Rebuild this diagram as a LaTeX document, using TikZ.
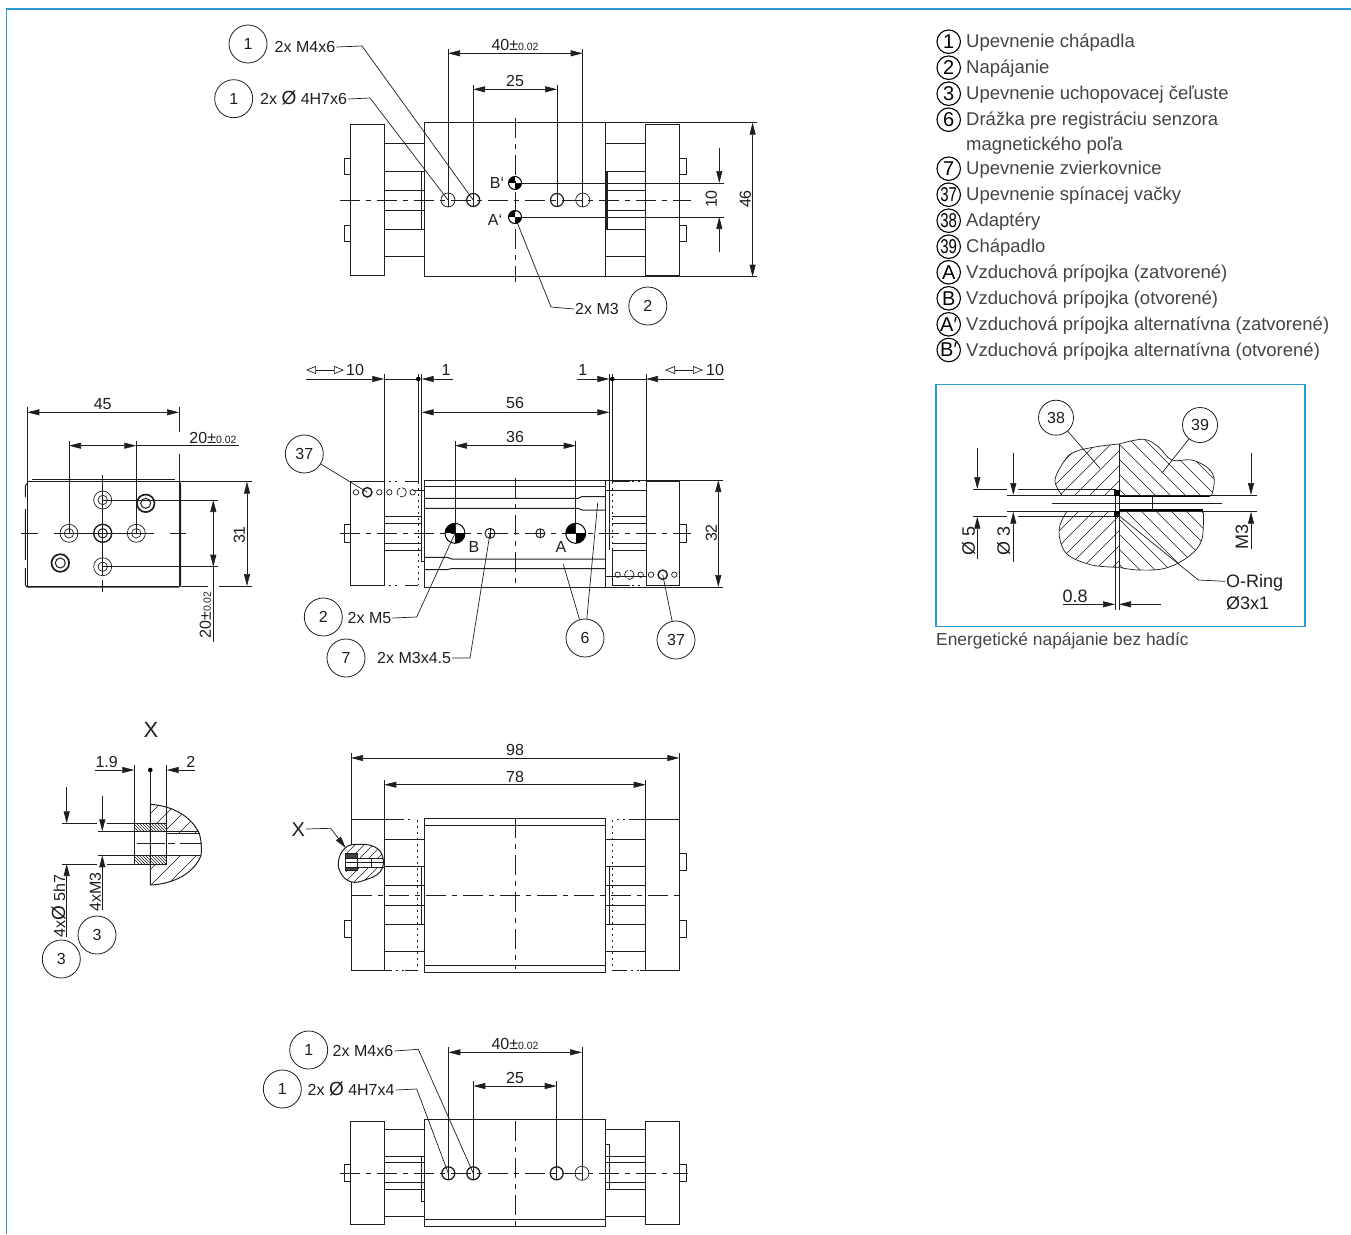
\documentclass[tikz,border=0pt]{standalone}
\usepackage{fontspec}
\setmainfont{Liberation Sans}
\usetikzlibrary{arrows.meta,calc}
\definecolor{frameblue}{HTML}{2A9AD6}
\definecolor{ink}{HTML}{1E1E1E}
\definecolor{legink}{HTML}{444444}
\newcommand\drawfont{\fontsize{16}{18}\selectfont}
\newcommand\tolfont{\fontsize{10.5}{12}\selectfont}
\newcommand\legfont{\fontsize{18.5}{21}\selectfont}
\newcommand\slashO{{\fontsize{19}{19}\selectfont Ø}}
\tikzset{
 part/.style={line width=1pt,draw=ink},
 fine/.style={line width=.7pt,draw=ink},
 ctr/.style={line width=.8pt,draw=ink,dash pattern=on 20pt off 6pt on 5pt off 6pt},
 hid/.style={line width=.9pt,draw=ink,dash pattern=on 2pt off 4pt},
 dimn/.style={line width=.7pt,draw=ink,{Triangle[length=12pt,width=6pt]}-{Triangle[length=12pt,width=6pt]}},
 tipend/.style={line width=.7pt,draw=ink,-{Triangle[length=12pt,width=6pt]}},
 openboth/.style={line width=.7pt,draw=ink,{Triangle[open,length=10pt,width=8pt]}-{Triangle[open,length=10pt,width=8pt]}},
 lead/.style={line width=.7pt,draw=ink},
 callout/.style={circle,draw=ink,line width=.8pt,minimum size=38pt,inner sep=0pt,font=\drawfont,text=ink},
 smallcall/.style={callout,minimum size=35pt},
 legcirc/.style={circle,draw=black,line width=1.1pt,minimum size=23.5pt,inner sep=0pt,font=\fontsize{20}{22}\selectfont,text=black},
 legtext/.style={anchor=base west,font=\legfont,text=legink,inner sep=0pt},
 lab/.style={font=\drawfont,text=ink,text height=11.5pt,text depth=0pt,inner xsep=1pt,inner ysep=0pt},
 hatchln/.style={line width=.65pt,draw=ink},
}
\newcommand\portmark[3]{%
 \begin{scope}\clip (#1,#2) circle (#3);
 \fill[black] (#1-#3,#2-#3) rectangle (#1,#2);
 \fill[black] (#1,#2) rectangle (#1+#3,#2+#3);
 \end{scope}
 \draw[line width=1pt,draw=black] (#1,#2) circle (#3);}
\newcommand\hatchup[4]{\foreach \d in {#1} \draw[hatchln] (\d,#2) -- ++(#3,-#3);}
\newcommand\hatchdn[4]{\foreach \d in {#1} \draw[hatchln] (\d,#2) -- ++(#3,#3);}
\begin{document}
\begin{tikzpicture}[x=1pt,y=-1pt]
\useasboundingbox (0,0) rectangle (1351,1234);
% frame
\draw[frameblue,line width=1.2pt] (1351,9) -- (6.5,9) -- (6.5,1234);

% ===== VIEW 1 =====
\draw[part] (424.6,122.7) rectangle (605.3,276.7);
\draw[part] (350.8,124.3) rectangle (384,275.3);
\draw[part] (645.8,124.3) rectangle (679.5,275.3);
\draw[part] (350.8,158) -- (344.7,158) -- (344.7,174.7) -- (350.8,174.7);
\draw[part] (350.8,225.3) -- (344.7,225.3) -- (344.7,241.7) -- (350.8,241.7);
\draw[part] (679.5,158) -- (686.4,158) -- (686.4,174.7) -- (679.5,174.7);
\draw[part] (679.5,225.3) -- (686.4,225.3) -- (686.4,241.7) -- (679.5,241.7);
\foreach \y in {143.7,171.3,190,210,229.3,256.7}{
 \draw[part] (384,\y) -- (424.6,\y); \draw[part] (605.3,\y) -- (645.8,\y);}
\draw[part] (421,171.3) -- (421,229.3);
\draw[line width=1.6pt,draw=ink] (607,171.3) -- (607,229.3);
\draw[ctr] (339.7,200) -- (691,200);
\draw[ctr] (515,118) -- (515,282);
\coordinate (ha) at (448,200); \coordinate (hb) at (473.2,200);
\coordinate (hc) at (557,200); \coordinate (hd) at (582.7,200);
\draw[fine] (ha) circle (7); \draw[part,line width=1.2pt] (hb) circle (6.5);
\draw[part,line width=1.2pt] (hc) circle (6.5); \draw[fine] (hd) circle (7);
\foreach \c in {ha,hb,hc,hd} \draw[fine] ($(\c)+(0,-7)$) -- ($(\c)+(0,7)$);
\coordinate (pb) at (515,183); \coordinate (pa) at (515,217);
\portmark{515}{183}{6.5} \portmark{515}{217}{6.5}
\node[lab] (lbb) at (497,183) {B\char96};
\node[lab] (lba) at (495,220) {A\char96};
% dims
\draw[fine] (ha) -- (448,49); \draw[fine] (hd) -- (582.7,49);
\draw[fine] (hb) -- (473.2,85); \draw[fine] (hc) -- (557,85);
\draw[dimn] (448,53.3) -- (582.7,53.3);
\draw[dimn] (473.2,89.3) -- (557,89.3);
\node[lab] (d40) at (515,45) {40±{\tolfont 0.02}};
\node[lab] (d25) at (515,81) {25};
\draw[fine] (605.3,122.7) -- (757,122.7); \draw[fine] (605.3,276.7) -- (757,276.7);
\draw[dimn] (752.6,122.7) -- (752.6,276.7);
\node[lab,rotate=90] (d46) at (745,199) {46};
\draw[fine] (pb) -- (723.5,183); \draw[fine] (pa) -- (723.5,217);
\draw[tipend] (719.3,147.7) -- (719.3,183);
\draw[tipend] (719.3,252) -- (719.3,217);
\node[lab,rotate=90] (d10) at (711,199) {10};
% callouts
\node[callout] (c1a) at (248,44) {1};
\node[lab,anchor=west] (t1a) at (273.5,47) {2x M4x6};
\coordinate (e1a) at (362,46);
\draw[lead] (t1a.east) -- (e1a) -- (hb);
\node[callout] (c1b) at (233.7,98.7) {1};
\node[lab,anchor=west] (t1b) at (259,99) {2x \slashO\ 4H7x6};
\coordinate (e1b) at (370,98);
\draw[lead] (t1b.east) -- (e1b) -- (ha);
\node[lab,anchor=west] (t2m) at (574,309) {2x M3};
\coordinate (e2m) at (551,307);
\draw[lead] (pa) -- (e2m) -- (t2m.west);
\node[callout] (c2a) at (647.8,306) {2};

% ===== VIEW 2 =====
\draw[part] (424.7,480) rectangle (605.7,587);
\draw[part] (350.7,481.7) rectangle (384.3,585.3);
\draw[part] (646,481.7) rectangle (679.3,585.3);
\draw[part] (350.7,524.7) -- (344.7,524.7) -- (344.7,542) -- (350.7,542);
\draw[part] (679.3,524.7) -- (686,524.7) -- (686,542) -- (679.3,542);
\draw[part] (421.7,374) -- (421.7,561) -- (424.7,561);
\draw[part] (612.3,374) -- (612.3,481.7);
\draw[part] (609.3,374) -- (609.3,550);
\draw[hid] (418.3,481.7) -- (418.3,585.3);
\draw[hid] (612.3,481.7) -- (612.3,550);
\draw[part] (612.3,550) -- (612.3,585.3);
\draw[fine] (418.3,374) -- (418.3,481.7);
\draw[part] (384.3,374) -- (384.3,481.7);
\draw[part] (646,374) -- (646,481.7);
\foreach \y in {516.7,523.3,543.3,550}{
 \draw[part] (384.3,\y) -- (421.7,\y); \draw[part] (612.3,\y) -- (646,\y);}
% top/bottom edges between jaw and body
\draw[hid] (389,481.7) -- (398,481.7); \draw[part] (405,481.7) -- (418.3,481.7);
\draw[hid] (389,585.3) -- (398,585.3); \draw[part] (405,585.3) -- (418.3,585.3);
\draw[part] (612.3,585.3) -- (630,585.3); \draw[hid] (632,585.3) -- (642,585.3);
\draw[hid] (632,481.7) -- (642,481.7);
\draw[part] (612.3,481.7) -- (630,481.7);
% body lines
\draw[part] (424.7,486.7) -- (605.7,486.7);
\draw[fine] (413,490.7) -- (424.7,490.7);
\draw[fine] (605.7,490.7) -- (646,490.7);
\draw[fine] (605.7,576.7) -- (646,576.7);
\draw[part] (424.7,498.3) -- (578,498.3) .. controls (580,496.5) .. (582,496.5) -- (605.7,496.5);
\draw[part] (424.7,508.3) -- (578,508.3) .. controls (580,510) .. (582,510) -- (605.7,510);
\draw[part] (424.7,557.3) -- (447,557.3) .. controls (450,559) .. (452,559) -- (605.7,559);
\draw[part] (424.7,569.7) -- (447,569.7) .. controls (450,568.5) .. (452,568.5) -- (605.7,568.5);
\draw[ctr] (340,533.3) -- (690.7,533.3);
\draw[ctr] (515.3,478) -- (515.3,587);
% ports and holes
\coordinate (pB) at (455,533.3); \coordinate (pA) at (575.7,533.3);
\coordinate (mL) at (490,533.3); \coordinate (mR) at (540.3,533.3);
\portmark{455}{533.3}{10} \portmark{575.7}{533.3}{10}
\draw[part] (mL) circle (5); \draw[part] (mR) circle (4.5);
\draw[fine] (490,528.3) -- (490,538.3); \draw[fine] (540.3,528.8) -- (540.3,537.8);
\node[lab] (lbB) at (474,547) {B};
\node[lab] (lbA) at (561,547) {A};
% small holes
\foreach \x in {356,379.3,389.3,412.7} \draw[fine] (\x,492.3) circle (2.7);
\coordinate (h37a) at (367.3,492.3);
\draw[line width=1.4pt,draw=ink] (h37a) circle (4.7);
\draw[fine,dash pattern=on 9pt off 2pt] (401.7,492.3) circle (4.7);
\foreach \x in {617.7,640.7,651,674.3} \draw[fine] (\x,574.7) circle (2.7);
\coordinate (h37b) at (662.7,574.7);
\draw[line width=1.4pt,draw=ink] (h37b) circle (4.7);
\draw[fine,dash pattern=on 9pt off 2pt] (629.3,574.7) circle (4.7);
% dims
\draw[dimn] (421.7,412.3) -- (609.3,412.3);
\node[lab] (d56) at (515,403) {56};
\draw[fine] (pB) -- (455,440.7); \draw[fine] (pA) -- (575.7,440.7);
\draw[dimn] (455,445.7) -- (575.7,445.7);
\node[lab] (d36) at (515,437) {36};
\draw[tipend] (306,379) -- (384.3,379);
\draw[fine] (384.3,379) -- (418.3,379);
\fill[black] (418.3,379) circle (2.3);
\draw[tipend] (453,379) -- (421.7,379);
\draw[tipend] (576.7,379) -- (609.3,379);
\draw[fine] (609.3,379) -- (646,379);
\fill[black] (612.3,379) circle (2.3);
\draw[tipend] (724,379) -- (646,379);
\draw[openboth] (306,370) -- (344,370);
\node[lab] (d10a) at (355,370) {10};
\node[lab] (d1a) at (446,370) {1};
\node[lab] (d1b) at (582.7,370) {1};
\draw[openboth] (665,370) -- (703,370);
\node[lab] (d10b) at (715,370) {10};
\draw[fine] (605.7,480) -- (723,480); \draw[fine] (605.7,587) -- (723,587);
\draw[dimn] (718.3,480) -- (718.3,587);
\node[lab,rotate=90] (d32) at (711,533) {32};
% callouts
\node[callout] (c37a) at (304.3,454) {37};
\draw[lead] (c37a) -- (h37a);
\node[callout] (c37b) at (676,640) {37};
\draw[lead] (c37b) -- (h37b);
\node[callout] (c6) at (585,638) {6};
\coordinate (s6a) at (563.3,564.3); \coordinate (s6b) at (597.7,502.7);
\draw[lead] (c6) -- (s6a); \draw[lead] (c6) -- (s6b);
\node[callout] (c2b) at (323.3,617) {2};
\node[lab,anchor=west] (t2b) at (346.5,618) {2x M5};
\coordinate (e2b) at (416.7,617);
\draw[lead] (t2b.east) -- (e2b) -- (pB);
\node[callout] (c7) at (346,658) {7};
\node[lab,anchor=west] (t7) at (376,658) {2x M3x4.5};
\coordinate (e7) at (470,658);
\draw[lead] (t7.east) -- (e7) -- (mL);

% ===== VIEW 3 =====
\draw[part] (27.3,481.7) rectangle (179,586);
\draw[part] (31.7,479.3) -- (175,479.3);
\draw[part] (179,481.7) -- (180.7,484) -- (180.7,585) -- (179,587) -- (27,587) -- (25.3,585);
\draw[part] (25.3,585) -- (25.3,568) (25.3,560) -- (25.3,509) (25.3,497) -- (25.3,486) -- (27.3,483);
\draw[ctr,dash pattern=on 17pt off 16pt on 100pt off 16pt] (21,533.3) -- (185.7,533.3);
\draw[ctr,dash pattern=on 100pt off 5pt] (102.7,475) -- (102.7,591.7);
\foreach \n/\x/\y in {pa/102.7/500,pb/69/533.3,pc/136.3/533.3,pd/102.7/566.7}{
 \coordinate (v\n) at (\x,\y);
 \draw[fine] (\x,\y) circle (9); \draw[fine] (\x,\y) circle (4.7);}
\draw[line width=1.4pt,draw=ink] (102.7,533.3) circle (9);
\draw[part] (102.7,533.3) circle (4.7);
\draw[line width=1.7pt,draw=ink] (145.7,503.3) circle (8.8);
\draw[part] (145.7,503.3) circle (5);
\draw[line width=1.7pt,draw=ink] (60.3,563) circle (8.8);
\draw[part] (60.3,563) circle (5);
\draw[fine] (27.3,481.7) -- (27.3,407);
\draw[fine] (179,481.7) -- (179,454) (179,431.7) -- (179,407);
\draw[dimn] (27.3,412.3) -- (179,412.3);
\node[lab] (d45) at (102.7,403.3) {45};
\draw[fine] (vpb) -- (69,441); \draw[fine] (vpc) -- (136.3,441);
\draw[dimn] (69,445.7) -- (136.3,445.7);
\draw[fine] (136.3,445.7) -- (239,445.7);
\node[lab] (d20h) at (213,437.5) {20±{\tolfont 0.02}};
\draw[fine] (vpa) -- (218,500); \draw[fine] (vpd) -- (218,566.7);
\draw[dimn] (213.3,500) -- (213.3,566.7);
\draw[fine] (213.3,566.7) -- (213.3,641.7);
\node[lab,rotate=90] (d20v) at (205,615) {20±{\tolfont 0.02}};
\draw[fine] (179,481.7) -- (251.7,481.7);
\draw[fine] (180.7,586) -- (208,586) (219,586) -- (251.7,586);
\draw[dimn] (247,481.7) -- (247,586);
\node[lab,rotate=90] (d31) at (239,535) {31};

% ===== VIEW 4 (detail X) =====
\node[lab,font=\fontsize{22}{24}\selectfont,text height=16pt] (xt) at (151,729) {X};
\begin{scope}
 \clip (150.3,804.3) .. controls (175,806) and (192,818) .. (199,833) -- (166.7,833) -- (166.7,823.3) -- (150.3,823.3) -- cycle;
 \hatchup{130,146,...,240}{834}{40}{}
\end{scope}
\begin{scope}
 \clip (150.3,885) .. controls (175,884) and (195,872) .. (201,855.3) -- (166.7,855.3) -- (166.7,864) -- (150.3,864) -- cycle;
 \hatchup{130,146,...,240}{890}{40}{}
\end{scope}
\draw[part] (150.3,885) -- (150.3,804.3) .. controls (175,806) and (192,818) .. (199,833) .. controls (201,838) and (202,848) .. (201,855.3) .. controls (195,872) and (175,884) .. (150.3,885);
\begin{scope}
 \clip (134.3,823.3) rectangle (166.7,831.3);
 \foreach \d in {130,133,...,170} \draw[line width=.5pt,draw=ink] (\d,823) -- ++(9,9);
\end{scope}
\begin{scope}
 \clip (134.3,855.3) rectangle (166.7,864);
 \foreach \d in {130,133,...,170} \draw[line width=.5pt,draw=ink] (\d,855) -- ++(9,9);
\end{scope}
\draw[part] (134.3,823.3) rectangle (166.7,831.3);
\draw[part] (134.3,855.3) rectangle (166.7,864);
\draw[fine] (98.3,831.3) -- (199,831.3); \draw[fine] (98.3,855.3) -- (201,855.3);
\draw[fine] (166.7,833.3) -- (199.5,833.3);
\draw[fine] (136.7,843.3) -- (165,843.3) (168,843.3) -- (175,843.3) (180,843.3) -- (201.7,843.3);
\draw[fine] (134.3,765) -- (134.3,864);
\draw[fine] (166.7,765) -- (166.7,864);
\draw[fine] (150.3,770) -- (150.3,804.3);
\fill[black] (150.3,770) circle (2.3);
\draw[tipend] (95.3,770) -- (134.3,770);
\draw[tipend] (195,770) -- (166.7,770);
\node[lab] (d19) at (106.7,762) {1.9};
\node[lab] (d2) at (190.7,762) {2};
\draw[fine] (62.3,823.3) -- (97,823.3) (107,823.3) -- (134.3,823.3);
\draw[fine] (62.3,864) -- (97,864) (107,864) -- (134.3,864);
\draw[tipend] (66.7,787.3) -- (66.7,823.3);
\draw[tipend] (66.7,936.7) -- (66.7,864);
\draw[tipend] (102.3,795.7) -- (102.3,831.3);
\draw[tipend] (102.3,910) -- (102.3,855.3);
\node[lab,rotate=90] (t5h) at (59.3,906) {4x\slashO\ 5h7};
\node[lab,rotate=90] (t4m) at (95,892) {4xM3};
\node[callout] (c3a) at (97,935) {3};
\node[callout] (c3b) at (61.3,959) {3};

% ===== VIEW 5 =====
\draw[part] (424.3,818) rectangle (605.7,972.3);
\draw[part] (424.3,825) -- (605.7,825); \draw[part] (424.3,965) -- (605.7,965);
\draw[part] (351,819.3) rectangle (384.3,970);
\draw[part] (645.7,819.3) rectangle (679.3,970);
\draw[part] (351,920) -- (344.3,920) -- (344.3,937.3) -- (351,937.3);
\foreach \y in {853.3,920}
 \draw[part] (679.3,\y) -- (686,\y) -- (686,\y+17) -- (679.3,\y+17);
\foreach \y in {839,866,885.3,905.3,924.3,951.7}{
 \draw[part] (384.3,\y) -- (424.3,\y); \draw[part] (605.7,\y) -- (645.7,\y);}
\draw[fine] (421.3,866) rectangle (424.3,924);
\draw[fine] (605.7,866) rectangle (609.3,924);
\draw[hid] (417.7,820) -- (417.7,970);
\draw[hid] (612.3,820) -- (612.3,970);
\draw[part] (384.3,819.3) -- (402,819.3) (630,819.3) -- (645.7,819.3);
\draw[hid] (402,819.3) -- (414,819.3); \draw[hid] (617,819.3) -- (630,819.3);
\draw[part] (384.3,970) -- (390,970) (405,970) -- (417.7,970) (612.3,970) -- (625,970) (640,970) -- (645.7,970);
\draw[hid] (390,970) -- (405,970); \draw[hid] (625,970) -- (640,970);
\draw[ctr] (352,895) -- (682.7,895);
\draw[ctr] (515.3,818) -- (515.3,968.7);
% blob
\def\blobpts{(338.3,862) (345,848) (358,844.3) (375,847) (383,858) (380,872) (365,880) (352,882) (342,875)}
\path[fill=white] plot[smooth cycle,tension=.7] coordinates {\blobpts};
\begin{scope}
 \clip plot[smooth cycle,tension=.7] coordinates {\blobpts};
 \foreach \d in {310,319,...,400} \draw[line width=.6pt,draw=ink] (\d,890) -- ++(50,-50);
 \fill[white] (340,858.3) rectangle (386,867.3);
 \fill[white] (336,846) rectangle (345.5,880);
\end{scope}
\draw[part] plot[smooth cycle,tension=.7] coordinates {\blobpts};
\path[fill=black!75] (345,853.3) rectangle (357.7,858.3);
\path[fill=black!75] (345,867.3) rectangle (357.7,870);
\draw[fine] (345,853.3) rectangle (357.7,870);
\draw[fine] (345,858.3) -- (383,858.3) (345,867.3) -- (385,867.3);
\draw[fine] (371.7,858.3) -- (371.7,867.3);
\draw[fine] (345,862) -- (385,862);
\node[lab,font=\fontsize{20}{22}\selectfont,text height=14pt] (xl) at (298.3,829) {X};
\coordinate (e5x) at (330.7,828.3); \coordinate (b5x) at (345.7,848);
\draw[lead] (xl.east) -- (e5x);
\draw[tipend] (e5x) -- (b5x);
\draw[fine] (351,819.3) -- (351,752.7);
\draw[fine] (679.3,819.3) -- (679.3,752.7);
\draw[fine] (384.3,819.3) -- (384.3,780);
\draw[fine] (645.7,819.3) -- (645.7,780);
\draw[dimn] (351,758) -- (679.3,758);
\draw[dimn] (384.3,784.7) -- (645.7,784.7);
\node[lab] (d98) at (515,750) {98};
\node[lab] (d78) at (515,776.5) {78};

% ===== VIEW 6 =====
\draw[part] (424.7,1119.3) rectangle (605.3,1226.7);
\draw[part] (424.7,1219.3) -- (605.3,1219.3);
\draw[part] (350.7,1121) rectangle (384.3,1224.3);
\draw[part] (645.7,1121) rectangle (679.3,1224.3);
\draw[part] (350.7,1164.3) -- (344.7,1164.3) -- (344.7,1181.3) -- (350.7,1181.3);
\draw[part] (679.3,1164.3) -- (686,1164.3) -- (686,1181.3) -- (679.3,1181.3);
\foreach \y in {1129.7,1156.3,1162.7,1182.7,1189.3,1216.7}{
 \draw[part] (384.3,\y) -- (424.7,\y); \draw[part] (605.3,\y) -- (645.7,\y);}
\draw[fine] (424.7,1156.3) -- (421.3,1156.3) -- (421.3,1201) -- (424.7,1201);
\draw[fine] (605.3,1144) -- (609.3,1144) -- (609.3,1189.3);
\draw[ctr] (340,1173.3) -- (687.7,1173.3);
\draw[ctr] (515,1120.7) -- (515,1226);
\coordinate (ga) at (448.3,1173.3); \coordinate (gb) at (473.3,1173.3);
\coordinate (gc) at (556.7,1173.3); \coordinate (gd) at (582,1173.3);
\foreach \c in {ga,gb,gc}{\draw[line width=1.3pt,draw=ink] (\c) circle (6.5);
 \draw[fine] ($(\c)+(0,-7)$) -- ($(\c)+(0,7)$);}
\draw[fine] (gd) circle (7); \draw[fine] (582,1166) -- (582,1180);
\draw[fine] (ga) -- (448.3,1047); \draw[fine] (gd) -- (582,1047);
\draw[fine] (gb) -- (473.3,1081); \draw[fine] (gc) -- (556.7,1081);
\draw[dimn] (448.3,1052.3) -- (582,1052.3);
\draw[dimn] (473.3,1086) -- (556.7,1086);
\node[lab] (g40) at (515,1043.5) {40±{\tolfont 0.02}};
\node[lab] (g25) at (515,1078) {25};
\node[callout] (g1a) at (308.7,1050) {1};
\node[lab,anchor=west] (gt1) at (331.5,1051) {2x M4x6};
\coordinate (ge1) at (418.3,1049.3);
\draw[lead] (gt1.east) -- (ge1) -- (gb);
\node[callout] (g1b) at (282.3,1089) {1};
\node[lab,anchor=west] (gt2) at (306.5,1090) {2x \slashO\ 4H7x4};
\coordinate (ge2) at (416.7,1089);
\draw[lead] (gt2.east) -- (ge2) -- (ga);

% ===== LEGEND =====
\foreach \n/\t/\y in {1/1/41.7,2/2/67.7,3/3/93.7,6/6/119.7,7/7/168.7,A/A/272.3,B/B/298.3,AP/A′/324.3,BP/B′/350}
 \node[legcirc] (l\n) at (948.7,\y) {\t};
\foreach \n/\t/\y in {37/37/194.7,38/38/220.7,39/39/246.7}
 \node[legcirc] (l\n) at (948.7,\y) {\scalebox{.75}[1]{\t}};
\foreach \n/\t/\y in {a/Upevnenie chápadla/47.5,b/Napájanie/73.5,c/Upevnenie uchopovacej čeľuste/99.5,d/Drážka pre registráciu senzora/125.5,e/magnetického poľa/150,f/Upevnenie zvierkovnice/174.5,g/Upevnenie spínacej vačky/200.5,h/Adaptéry/226.5,i/Chápadlo/252.5,j/Vzduchová prípojka (zatvorené)/278,k/Vzduchová prípojka (otvorené)/304,m/Vzduchová prípojka alternatívna (zatvorené)/330,n/Vzduchová prípojka alternatívna (otvorené)/356}
 \node[legtext] (lt\n) at (966,\y) {\t};

% ===== INSET =====
\draw[frameblue,line width=1.2pt] (936,384.7) rectangle (1305,626.7);
\node[legtext,font=\fontsize{17.4}{20}\selectfont] (cap) at (936,645) {Energetické napájanie bez hadíc};
\def\UL{(1119,444) (1096.7,446.7) (1075,451.7) (1065,460) (1055,480) (1061.7,495)}
\def\UR{(1119,444) (1143.3,439.3) (1158.3,446.7) (1171.7,460) (1191.7,460) (1208.3,468.3) (1214.3,480) (1211.7,495)}
\def\LL{(1066.7,511.7) (1060,525) (1060,540) (1068,555) (1091.7,565) (1119,567.3)}
\def\LR{(1119,567.3) (1138.3,570) (1165,568.3) (1188.3,556.7) (1201.7,540) (1203.3,511.7)}
\begin{scope}\clip plot[smooth,tension=.6] coordinates {\UL} -- (1119,495) -- cycle;
 \hatchup{1000,1015,...,1165}{510}{80}{}\end{scope}
\begin{scope}\clip plot[smooth,tension=.6] coordinates {\UR} -- (1119,495) -- cycle;
 \hatchdn{1060,1075,...,1225}{430}{80}{}\end{scope}
\begin{scope}\clip plot[smooth,tension=.6] coordinates {\LL} -- (1119,511.7) -- cycle;
 \hatchup{1000,1015,...,1165}{575}{80}{}\end{scope}
\begin{scope}\clip plot[smooth,tension=.6] coordinates {\LR} -- (1119,511.7) -- cycle;
 \hatchdn{1060,1075,...,1225}{505}{80}{}\end{scope}
\draw[fine] plot[smooth,tension=.6] coordinates {\UL};
\draw[fine] plot[smooth,tension=.6] coordinates {\UR};
\draw[fine] plot[smooth,tension=.6] coordinates {\LL};
\draw[fine] plot[smooth,tension=.6] coordinates {\LR};
\draw[fine] (1119,444) -- (1119,610);
\draw[fine] (1115,489) -- (1115,610);
\draw[fine] (1007.3,495) -- (1257.3,495);
\draw[fine] (1007.3,511.7) -- (1257.3,511.7);
\draw[line width=1.1pt] (1119,496.7) -- (1210,496.7);
\draw[line width=1.1pt] (1119,510) -- (1203,510);
\draw[part] (1051.7,503.3) -- (1221.7,503.3);
\draw[fine] (1152.3,496.7) -- (1152.3,510);
\fill[black] (1114.3,489.7) rectangle (1120.3,495.7);
\fill[black] (1114.3,511.3) rectangle (1120.3,517.3);
\draw[fine] (972.7,489) -- (1006.7,489) (1018,489) -- (1115,489);
\draw[fine] (972.7,516.7) -- (1006.7,516.7) (1018,516.7) -- (1115,516.7);
\draw[tipend] (977.3,448.3) -- (977.3,489);
\draw[tipend] (977.3,559.3) -- (977.3,516.7);
\draw[tipend] (1013.3,453.3) -- (1013.3,495);
\draw[tipend] (1013.3,561.7) -- (1013.3,511.7);
\draw[tipend] (1251,453.3) -- (1251,495);
\draw[tipend] (1251,549) -- (1251,511.7);
\draw[tipend] (1063.3,604.3) -- (1115,604.3);
\draw[tipend] (1161,604.3) -- (1119,604.3);
\newcommand\insetfont{\fontsize{18}{20}\selectfont}
\node[lab,rotate=90,font=\insetfont,text height=13pt] (i5) at (968.3,541) {Ø 5};
\node[lab,rotate=90,font=\insetfont,text height=13pt] (i3) at (1003.3,541) {Ø 3};
\node[lab,rotate=90,font=\insetfont,text height=13pt] (iM) at (1241.7,536.7) {M3};
\node[lab,font=\insetfont,text height=13pt] (i08) at (1075,595.5) {0.8};
\node[lab,anchor=west,font=\insetfont,text height=13pt] (iO) at (1225,581.3) {O-Ring};
\node[lab,anchor=west,font=\insetfont,text height=13pt] (iO2) at (1225,602.5) {Ø3x1};
\coordinate (ring) at (1117.3,514.3); \coordinate (eO) at (1198.3,580);
\draw[lead] (ring) -- (eO) -- (iO.west);
\node[smallcall] (i38) at (1056,417.7) {38};
\node[smallcall] (i39) at (1200,425) {39};
\coordinate (s38) at (1100,468.3); \coordinate (s39) at (1161.7,473.3);
\draw[lead] (i38) -- (s38); \draw[lead] (i39) -- (s39);
\end{tikzpicture}
\end{document}
